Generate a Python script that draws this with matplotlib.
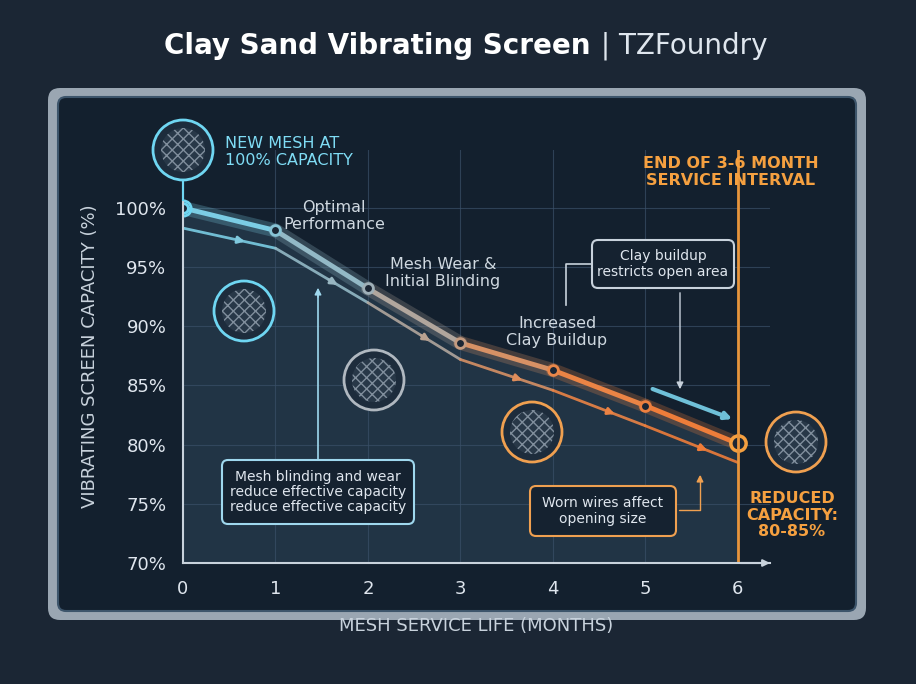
import matplotlib.pyplot as plt
import numpy as np
from matplotlib.patches import FancyBboxPatch, Circle
from matplotlib.collections import LineCollection
from matplotlib.colors import LinearSegmentedColormap

# data
months = [0, 1, 2, 3, 4, 5, 6]
capacity = [100.0, 98.1, 93.2, 88.6, 86.3, 83.3, 80.1]
capacity_low = [98.3, 96.6, 92.0, 87.2, 84.6, 81.6, 78.5]
yticks = [70, 75, 80, 85, 90, 95, 100]
ytick_labels = ['70%', '75%', '80%', '85%', '90%', '95%', '100%']

cmap = LinearSegmentedColormap.from_list('bo', ['#6fd6f2', '#9fb0b8', '#e9874a', '#f07a35'])

fig = plt.figure(figsize=(9.16, 6.84), dpi=100)
fig.patch.set_facecolor('#1b2634')

# outer frame of the board
bg = fig.add_axes([0, 0, 1, 1])
bg.set_xlim(0, 916); bg.set_ylim(684, 0); bg.axis('off')
bg.add_patch(FancyBboxPatch((48, 88), 818, 532, boxstyle='round,pad=0,rounding_size=12',
                            fc='#9aa6b2', ec='none'))
bg.add_patch(FancyBboxPatch((58, 97), 798, 514, boxstyle='round,pad=0,rounding_size=8',
                            fc='#13202e', ec='#3d556b', lw=1.5))
bg.text(590, 46, 'Clay Sand Vibrating Screen', color='white', fontsize=20, fontweight='bold',
        ha='right', va='center')
bg.text(592, 46, ' | TZFoundry', color='#dfe6ee', fontsize=20, ha='left', va='center')

ax = fig.add_axes([183/916, 1-563/684, (770-183)/916, (563-150)/684])
ax.set_facecolor('none')
ax.set_xlim(0, 6.35)
ax.set_ylim(70, 104.9)
for s in ['top', 'right']:
    ax.spines[s].set_visible(False)
for s in ['left', 'bottom']:
    ax.spines[s].set_color('#c8d2dc'); ax.spines[s].set_linewidth(1.5)
ax.set_xticks(months)
ax.set_xticklabels([str(m) for m in months], color='#dfe6ee', fontsize=13)
ax.set_yticks(yticks)
ax.set_yticklabels(ytick_labels, color='#dfe6ee', fontsize=13)
ax.tick_params(length=0, pad=12)
ax.grid(color='#3a5068', lw=0.8, alpha=0.7)
ax.set_xlabel('MESH SERVICE LIFE (MONTHS)', color='#c8d2dc', fontsize=13, labelpad=14)
ax.set_ylabel('VIBRATING SCREEN CAPACITY (%)', color='#c8d2dc', fontsize=13, labelpad=12)

# area under curve
ax.fill_between(months, capacity, 70, color='#3d5a70', alpha=0.35, lw=0)

def grad_line(y, lw, alpha):
    pts = np.array([months, y]).T.reshape(-1, 1, 2)
    segs = np.concatenate([pts[:-1], pts[1:]], axis=1)
    lc = LineCollection(segs, cmap=cmap, lw=lw, alpha=alpha, capstyle='round')
    lc.set_array(np.array(months[:-1]) + 0.5)
    lc.set_clim(0, 6)
    ax.add_collection(lc)

grad_line(capacity, 10, 0.25)
grad_line(capacity, 3.5, 1)
grad_line(capacity_low, 2, 0.9)
for i in range(len(months) - 1):
    xm = (months[i] + months[i+1]) / 2 + 0.2
    ym = np.interp(xm, months, capacity_low)
    ax.annotate('', xy=(xm, ym), xytext=(xm - 0.15, np.interp(xm - 0.15, months, capacity_low)),
                arrowprops=dict(arrowstyle='-|>', color=cmap(xm / 6), lw=2))
for m, c in zip(months, capacity):
    ax.plot(m, c, 'o', ms=7, mfc='#1b2634', mec=cmap(m / 6), mew=2)
ax.plot(0, 100, 'o', ms=11, mfc='none', mec='#6fd6f2', mew=2)
ax.plot(6, capacity[-1], 'o', ms=11, mfc='#1b2634', mec='#f5a040', mew=2.5)

ax.axvline(6, color='#e8953c', lw=2)
ax.annotate('', xy=(6.38, 70), xytext=(6.0, 70), arrowprops=dict(arrowstyle='-|>', color='#c8d2dc', lw=1.5),
            annotation_clip=False)

# overlay for annotations, boxes and icons
ov = fig.add_axes([0, 0, 1, 1])
ov.set_xlim(0, 916); ov.set_ylim(684, 0); ov.axis('off')

tkw = dict(fontsize=11.5, va='center')
ov.text(225, 152, 'NEW MESH AT\n100% CAPACITY', color='#7fdcf5', linespacing=1.1, **tkw)
ov.text(334, 216, 'Optimal\nPerformance', color='#cfd8e0', ha='center', linespacing=1.1, **tkw)
ov.text(443, 273, 'Mesh Wear &\nInitial Blinding', color='#cfd8e0', ha='center', linespacing=1.1, **tkw)
ov.text(557, 332, 'Increased\nClay Buildup', color='#cfd8e0', ha='center', linespacing=1.1, **tkw)
ov.text(731, 172, 'END OF 3-6 MONTH\nSERVICE INTERVAL', color='#f5a040', ha='center', linespacing=1.1,
        fontweight='bold', **tkw)
ov.text(792, 515, 'REDUCED\nCAPACITY:\n80-85%', color='#f5a040', ha='center', linespacing=1.1,
        fontweight='bold', **tkw)

def box(x, y, w, h, text, ec):
    ov.add_patch(FancyBboxPatch((x, y), w, h, boxstyle='round,pad=0,rounding_size=6',
                                fc='#152230', ec=ec, lw=1.5))
    ov.text(x + w/2, y + h/2, text, color='#dfe6ee', ha='center', va='center', fontsize=10,
            linespacing=1.1)

box(222, 460, 192, 64, 'Mesh blinding and wear\nreduce effective capacity\nreduce effective capacity', '#9fd8ee')
box(592, 240, 142, 48, 'Clay buildup\nrestricts open area', '#c8d2dc')
box(530, 486, 146, 50, 'Worn wires affect\nopening size', '#f0a050')
ov.plot([318, 318], [460, 295], color='#9fd8ee', lw=1.2)
ov.annotate('', xy=(318, 285), xytext=(318, 300), arrowprops=dict(arrowstyle='-|>', color='#9fd8ee'))
ov.plot([592, 566, 566], [264, 264, 305], color='#c8d2dc', lw=1.2)
ov.annotate('', xy=(680, 392), xytext=(680, 290), arrowprops=dict(arrowstyle='-|>', color='#c8d2dc'))
ov.annotate('', xy=(700, 472), xytext=(676, 510), arrowprops=dict(arrowstyle='-|>', color='#f0a050',
            connectionstyle='angle,angleA=0,angleB=90'))
ov.annotate('', xy=(735, 420), xytext=(650, 388), arrowprops=dict(arrowstyle='-|>', color='#6fc0d8', lw=3))

# mesh icons
for (cx, cy, col) in [(183, 150, '#6fd6f2'), (244, 311, '#6fd6f2'), (374, 380, '#b0b8c0'),
                      (532, 432, '#f0a050'), (796, 442, '#f0a050')]:
    ov.add_patch(Circle((cx, cy), 30, fc='#1d2c3c', ec=col, lw=2))
    ov.add_patch(Circle((cx, cy), 22, fc='#2a3a4a', ec='#8a98a6', lw=0, hatch='xxx', alpha=0.9))
ov.plot([183, 183], [180, 200], color='#6fd6f2', lw=1.5)

fig.savefig('out.png', dpi=100, facecolor=fig.get_facecolor())
